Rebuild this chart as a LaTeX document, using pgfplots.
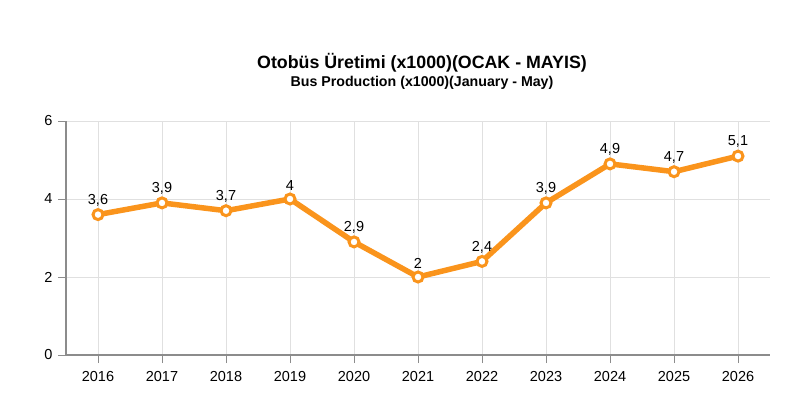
\documentclass[border=0pt]{standalone}
\usepackage{fontspec}
\setmainfont{Liberation Sans}
\usepackage{pgfplots}
\pgfplotsset{compat=1.18}
\definecolor{busorange}{RGB}{250,148,28}
\definecolor{gridgray}{RGB}{224,224,224}
\definecolor{axisgray}{RGB}{140,140,140}
\begin{document}
\begin{tikzpicture}[x=1pt,y=1pt]
\useasboundingbox (0,0) rectangle (791,410);
\node[font=\bfseries\fontsize{17.8}{20}\selectfont] at (422,347) {Otobüs Üretimi (x1000)(OCAK - MAYIS)};
\node[font=\bfseries\fontsize{14.2}{16}\selectfont] at (422,327) {Bus Production (x1000)(January - May)};
\begin{axis}[
  at={(66pt,55pt)}, anchor=south west,
  scale only axis, width=704pt, height=234pt,
  xmin=-0.5, xmax=10.5, ymin=0, ymax=6,
  xtick={0,...,10},
  xticklabels={2016,2017,2018,2019,2020,2021,2022,2023,2024,2025,2026},
  ytick={0,2,4,6},
  axis x line*=bottom, axis y line*=left,
  axis line style={axisgray, line width=1.2pt},
  grid=major, major grid style={gridgray, line width=0.8pt},
  tick align=outside, major tick length=8pt,
  tick style={axisgray, line width=0.8pt},
  tick label style={font=\fontsize{14.5}{16}\selectfont},
  /pgf/number format/assume math mode=true,
  xticklabel style={yshift=-5pt},
  yticklabel style={xshift=-2pt},
  nodes near coords,
  nodes near coords style={font=\fontsize{14.5}{16}\selectfont, text=black, /pgf/number format/use comma, yshift=3.5pt},
  clip=false,
]
\addplot[color=busorange, line width=5.5pt, mark=*, mark size=5pt,
  mark options={fill=white, draw=busorange, line width=3pt}]
  coordinates {(0,3.6) (1,3.9) (2,3.7) (3,4) (4,2.9) (5,2) (6,2.4) (7,3.9) (8,4.9) (9,4.7) (10,5.1)};
\end{axis}
\end{tikzpicture}
\end{document}
